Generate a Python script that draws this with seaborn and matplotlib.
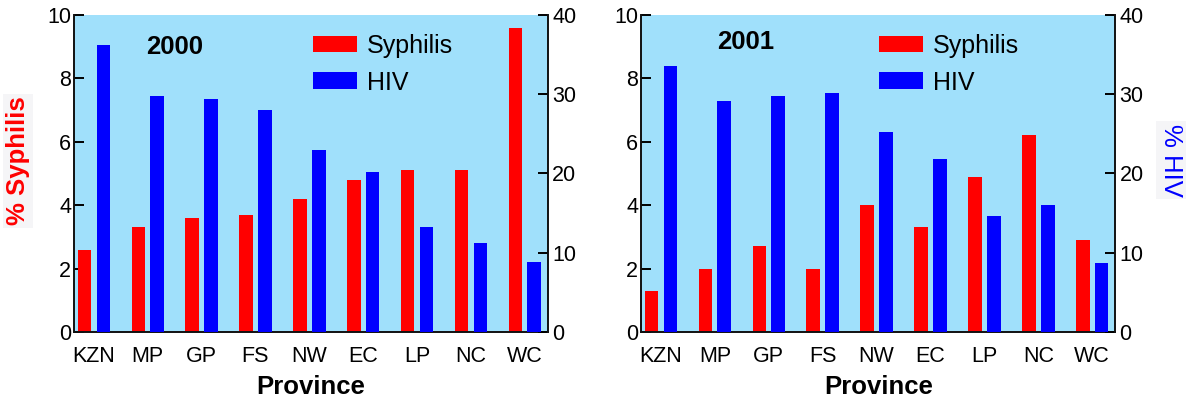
import numpy as np
import pandas as pd
import matplotlib
matplotlib.use('Agg')
import matplotlib.pyplot as plt
import seaborn as sns
from matplotlib.patches import Patch

provinces = ['KZN', 'MP', 'GP', 'FS', 'NW', 'EC', 'LP', 'NC', 'WC']
syph_2000 = [2.6, 3.3, 3.6, 3.7, 4.2, 4.8, 5.1, 5.1, 9.6]
hiv_2000 = [36.2, 29.8, 29.4, 28.0, 23.0, 20.2, 13.2, 11.2, 8.8]
syph_2001 = [1.3, 2.0, 2.7, 2.0, 4.0, 3.3, 4.9, 6.2, 2.9]
hiv_2001 = [33.6, 29.2, 29.8, 30.2, 25.2, 21.8, 14.6, 16.0, 8.7]

sns.set_style('ticks')
plt.rcParams['font.family'] = ['Liberation Sans', 'DejaVu Sans']
for k in ('text.color', 'axes.labelcolor', 'xtick.color', 'ytick.color'):
    plt.rcParams[k] = 'black'

RED, BLUE = '#ff0000', '#0000ff'
BG = '#a0e0fb'
series = ['Syphilis', 'HIV']
pal = {'Syphilis': RED, 'HIV': BLUE}


def panel(ax, year, syph, hiv, title_xy, leg_x):
    syph_df = pd.DataFrame({'Province': provinces, 'Series': 'Syphilis', 'value': syph})
    hiv_df = pd.DataFrame({'Province': provinces, 'Series': 'HIV', 'value': hiv})
    ax.set_facecolor(BG)
    sns.barplot(data=syph_df, x='Province', y='value', hue='Series', hue_order=series,
                order=provinces, palette=pal, saturation=1, width=0.7, gap=0.28,
                dodge=True, errorbar=None, legend=False, linewidth=0, ax=ax)
    ax2 = ax.twinx()
    sns.barplot(data=hiv_df, x='Province', y='value', hue='Series', hue_order=series,
                order=provinces, palette=pal, saturation=1, width=0.7, gap=0.28,
                dodge=True, errorbar=None, legend=False, linewidth=0, ax=ax2)
    ax.set_xlim(-0.37, 8.43)
    ax.set_ylim(0, 10)
    ax2.set_ylim(0, 40)
    ax.set_yticks(range(0, 11, 2))
    ax2.set_yticks(range(0, 41, 10))
    ax.set_ylabel('')
    ax2.set_ylabel('')
    ax.set_xlabel('Province', fontsize=18.5, fontweight='bold', labelpad=6)
    for a in (ax, ax2):
        a.spines['top'].set_visible(False)
        for s in a.spines.values():
            s.set_linewidth(1.4)
            s.set_color('#111111')
    ax.spines['right'].set_visible(False)
    ax2.spines['left'].set_visible(False)
    ax2.spines['bottom'].set_visible(False)
    ax.tick_params(axis='y', direction='in', length=7, width=1.4, labelsize=15.5, pad=2)
    ax2.tick_params(axis='y', direction='in', length=7, width=1.4, labelsize=15.5, pad=3)
    ax.tick_params(axis='x', length=0, labelsize=15.5, pad=10)
    ax.text(title_xy[0], title_xy[1], year, transform=ax.transAxes, ha='center',
            va='center', fontsize=18.5, fontweight='bold')
    handles = [Patch(facecolor=RED, edgecolor='none', label='Syphilis'),
               Patch(facecolor=BLUE, edgecolor='none', label='HIV')]
    ax2.legend(handles=handles, loc='upper left', bbox_to_anchor=(leg_x, 0.94),
               frameon=False, fontsize=18, handlelength=1.76, handleheight=0.64,
               labelspacing=0.5, handletextpad=0.4, borderaxespad=0, borderpad=0)
    return ax2


fig = plt.figure(figsize=(11.89, 4.03), dpi=100)
ax_a = fig.add_axes([0.0622, 0.1762, 0.3987, 0.7866])
ax_b = fig.add_axes([0.5391, 0.1762, 0.3990, 0.7866])
panel(ax_a, '2000', syph_2000, hiv_2000, (0.213, 0.9), 0.504)
panel(ax_b, '2001', syph_2001, hiv_2001, (0.221, 0.915), 0.501)

box = dict(facecolor='#f5f5f7', edgecolor='none', pad=2)
fig.text(18 / 1189, 1 - 161 / 403, '% Syphilis', rotation=90, ha='center', va='center',
         color=RED, fontsize=18.5, fontweight='bold', bbox=box)
fig.text(1171 / 1189, 1 - 160 / 403, '% HIV', rotation=270, ha='center', va='center',
         color=BLUE, fontsize=18.5, bbox=box)

fig.savefig('out.png', dpi=100)
